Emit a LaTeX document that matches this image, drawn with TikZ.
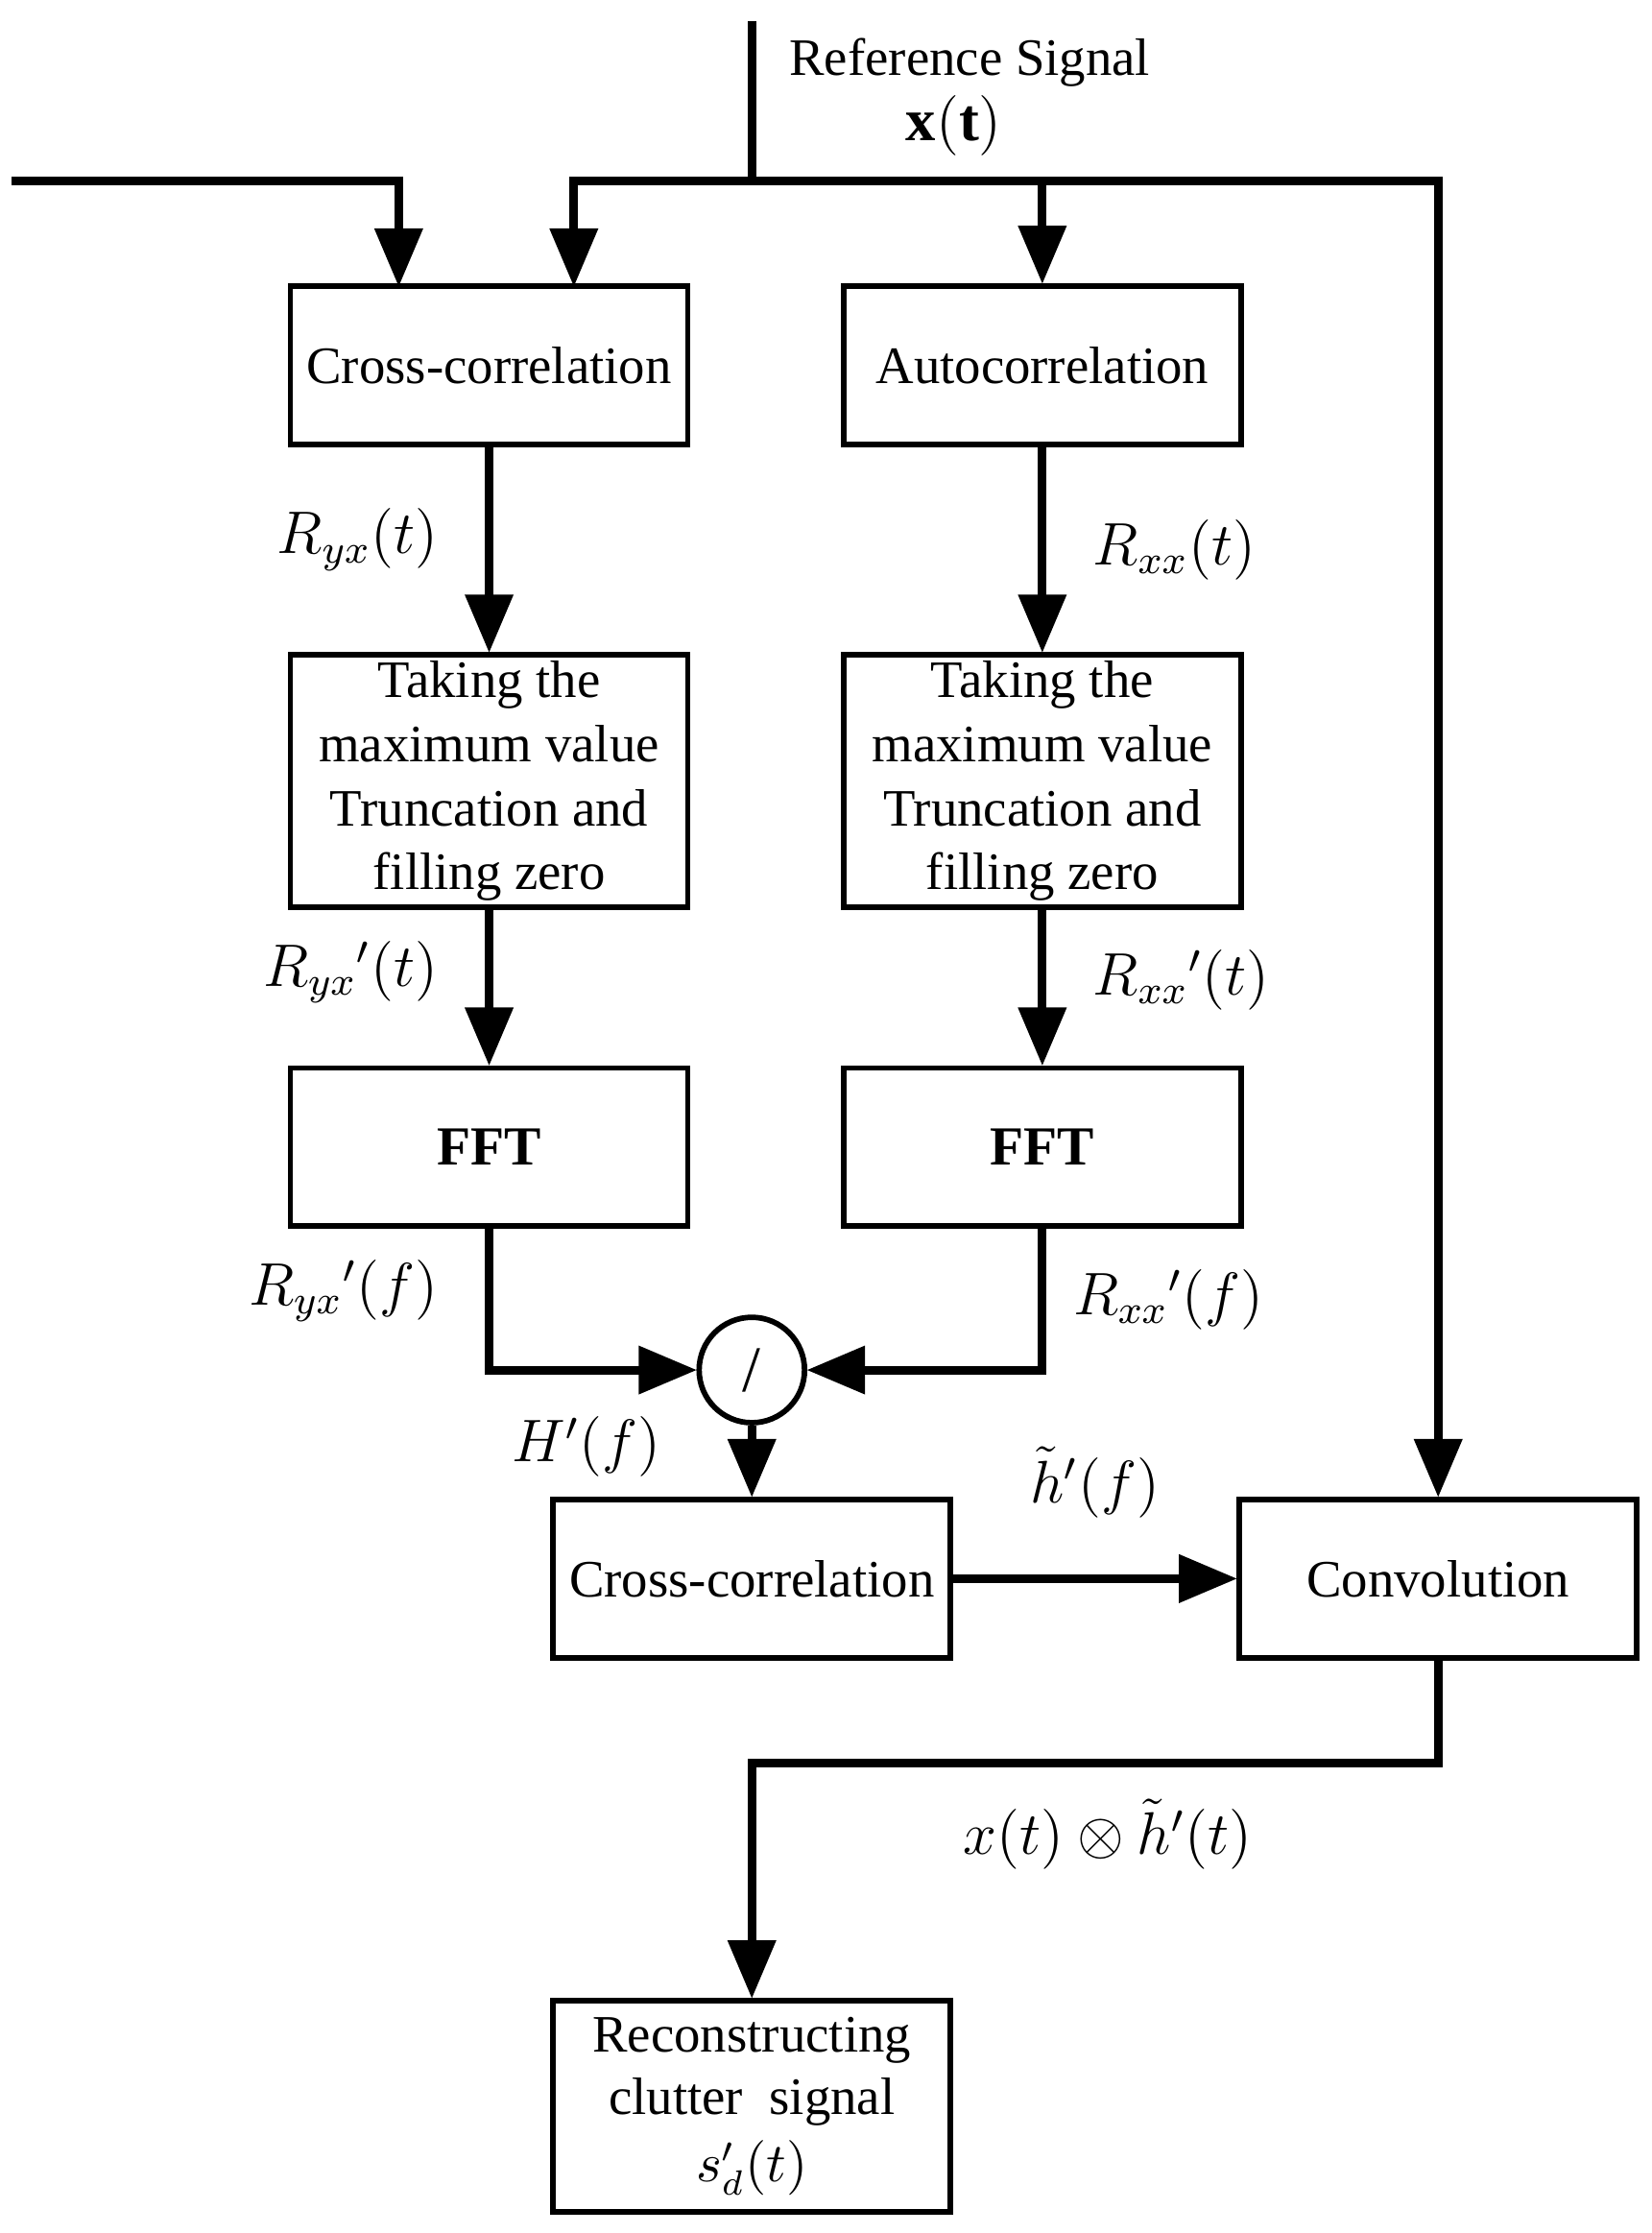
\documentclass[tikz,border=0pt]{standalone}
\usepackage{amsmath}
\usepackage{fontspec}
\setmainfont{Liberation Serif}
\usetikzlibrary{arrows}
\tikzset{
  blk/.style={draw,line width=1.1pt,minimum width=2.79cm,minimum height=1.11cm,
    align=center,inner sep=0pt,font=\fontsize{10.5}{12.8}\selectfont},
  sig/.style={line width=1.7pt},
  lbl/.style={font=\fontsize{12}{14}\selectfont}
}
\begin{document}
\begin{tikzpicture}[x=0.01cm,y=-0.01cm,>=triangle 45]
  \useasboundingbox (0,0) rectangle (1160,1568);

  % blocks
  \node[blk] (cc1) at (343.5,256.5) {Cross-correlation};
  \node[blk] (ac) at (732,256.5) {Autocorrelation};
  \node[blk,minimum height=1.77cm] (tk1) at (343.5,548.5)
    {Taking the\\maximum value\\Truncation and\\filling zero};
  \node[blk,minimum height=1.77cm] (tk2) at (732,548.5)
    {Taking the\\maximum value\\Truncation and\\filling zero};
  \node[blk,font=\bfseries\fontsize{11}{13}\selectfont] (fft1) at (343.5,805.5) {FFT};
  \node[blk,font=\bfseries\fontsize{11}{13}\selectfont] (fft2) at (732,805.5) {FFT};
  \node[draw,circle,line width=1.1pt,minimum size=0.74cm,inner sep=0pt,font=\fontsize{13}{15}\selectfont] (dv) at (528,962) {/};
  \node[blk] (cc2) at (528,1108.5) {Cross-correlation};
  \node[blk] (cv) at (1010,1108.5) {Convolution};
  \node[blk,minimum height=1.48cm,font=\fontsize{10.5}{12.5}\selectfont] (rc) at (528,1479)
    {Reconstructing\\clutter~~signal\\[1pt]$s_d'(t)$};

  % inputs
  \coordinate (yin) at (8,127);
  \coordinate (xin) at (528,15);
  \coordinate (xj) at (528,127);
  \draw[sig,->] (yin) -| (280,201);
  \draw[sig] (xin) -- (xj);
  \draw[sig,->] (xj) -| (403,201);
  \draw[sig,->] (xj) -| (ac.north);
  \draw[sig,->] (xj) -| (cv.north);
  \node[anchor=west,font=\fontsize{10.5}{12}\selectfont] (rs) at (542,44) {Reference Signal};
  \node[lbl] (xt) at (670,88) {$\mathbf{x(t)}$};

  % branches
  \draw[sig,->] (cc1) -- (tk1) node[pos=0.45,left=6pt,lbl] {$R_{yx}(t)$};
  \draw[sig,->] (ac) -- (tk2) node[pos=0.5,right=6pt,lbl] {$R_{xx}(t)$};
  \draw[sig,->] (tk1) -- (fft1) node[pos=0.4,left=6pt,lbl] {$R_{yx}{}'(t)$};
  \draw[sig,->] (tk2) -- (fft2) node[pos=0.45,right=6pt,lbl] {$R_{xx}{}'(t)$};
  \draw[sig,->] (fft1) |- (dv) node[pos=0.22,left=6pt,lbl] {$R_{yx}{}'(f)$};
  \draw[sig,->] (fft2) |- (dv) node[pos=0.25,right=2pt,lbl] {$R_{xx}{}'(f)$};
  \draw[sig,->] (dv) -- (cc2) node[pos=0.3,left=14pt,lbl] {$H'(f)$};
  \draw[sig,->] (cc2) -- (cv) node[midway,above=8pt,lbl] {$\tilde{h}'(f)$};
  \draw[sig,->] (cv.south) |- (528,1238) -- (rc.north);
  \node[lbl] (out) at (778,1288) {$x(t)\otimes\tilde{h}'(t)$};
\end{tikzpicture}
\end{document}
